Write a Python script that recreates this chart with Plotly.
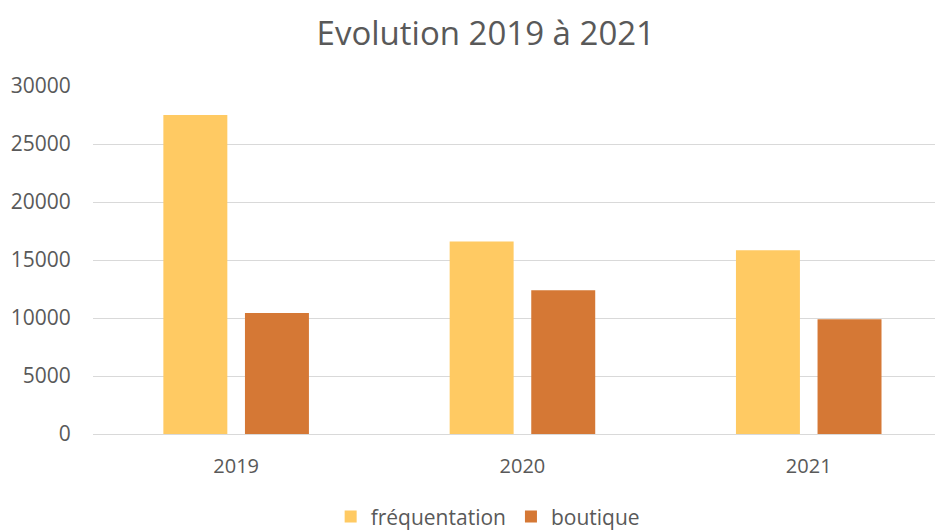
import plotly.graph_objects as go

categories = ["2019", "2020", "2021"]
frequentation = [27500, 16600, 15850]
boutique = [10430, 12400, 9900]
y_ticks = [0, 5000, 10000, 15000, 20000, 25000, 30000]

FONT = "Open Sans"
TXT = "#595959"

# page body has an 8px margin, so the figure is sized to fit the window
W, H = 935, 522

fig = go.Figure()
fig.add_trace(go.Bar(name="fréquentation", x=categories, y=frequentation,
                     marker=dict(color="#FFCA63", line=dict(width=0))))
fig.add_trace(go.Bar(name="boutique", x=categories, y=boutique,
                     marker=dict(color="#D57835", line=dict(width=0))))

fig.update_layout(
    width=W, height=H,
    margin=dict(l=85, r=0, t=78, b=96, autoexpand=False),
    paper_bgcolor="white", plot_bgcolor="white",
    barmode="group", bargap=0.43, bargroupgap=0.216,
    font=dict(family=FONT, color=TXT, size=20),
    title=dict(text="Evolution 2019 à 2021", xref="container", yref="container",
               x=0.511, y=0.952, xanchor="center", yanchor="middle",
               font=dict(family=FONT, size=33, color=TXT)),
    legend=dict(orientation="h", xref="container", yref="container",
                x=0.513, y=0.025, xanchor="center", yanchor="middle",
                font=dict(family=FONT, size=21, color=TXT),
                itemwidth=30, traceorder="normal"),
    showlegend=True,
)
fig.update_xaxes(type="category", range=[-0.5, 2.469], showgrid=False,
                 showline=True, linecolor="#D9D9D9", linewidth=1,
                 ticks="outside", ticklen=14, tickcolor="rgba(0,0,0,0)",
                 tickfont=dict(family=FONT, size=20, color=TXT))
fig.update_yaxes(range=[0, 30000], tickvals=y_ticks, ticktext=[str(v) for v in y_ticks],
                 showgrid=True, gridcolor="#D9D9D9", gridwidth=1,
                 zeroline=False, showline=False,
                 ticks="outside", ticklen=17, tickcolor="rgba(0,0,0,0)",
                 tickfont=dict(family=FONT, size=21, color=TXT))

fig.write_html("out.html")
